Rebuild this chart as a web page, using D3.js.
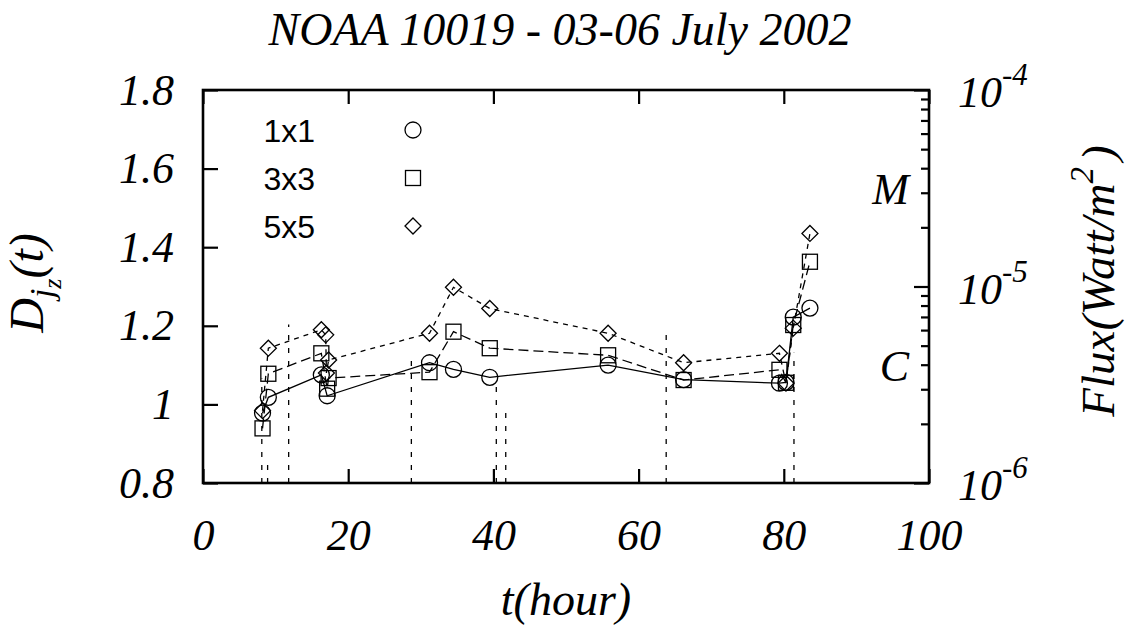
<!DOCTYPE html>
<html>
<head>
<meta charset="utf-8">
<script src="https://cdn.jsdelivr.net/npm/d3@7"></script>
<style>
  html, body { margin: 0; padding: 0; background: #fff; }
  svg { display: block; }
  .serif { font-family: "Liberation Serif", "Times New Roman", serif; font-style: italic; fill: #000; }
  .sans { font-family: "Liberation Sans", Arial, sans-serif; fill: #000; }
</style>
</head>
<body>
<svg id="chart" width="1127" height="632"></svg>
<script>
// Fractal dimension D_jz(t) of the vertical current for three box sizes
const hours1x1 = [8.2, 9.0, 16.3, 17.1, 31.2, 34.5, 39.5, 55.8, 66.2, 79.4, 80.3, 81.3, 83.6];
const dim1x1   = [0.978, 1.018, 1.075, 1.022, 1.106, 1.089, 1.069, 1.100, 1.063, 1.054, 1.056, 1.222, 1.245];

const hours3x3 = [8.2, 9.0, 16.3, 17.1, 17.3, 31.2, 34.5, 39.5, 55.8, 66.2, 79.4, 80.3, 81.3, 83.6];
const dim3x3   = [0.939, 1.078, 1.130, 1.040, 1.067, 1.082, 1.185, 1.143, 1.125, 1.062, 1.088, 1.055, 1.202, 1.363];

const hours5x5 = [8.2, 9.0, 16.3, 16.9, 17.0, 17.3, 31.2, 34.5, 39.5, 55.8, 66.2, 79.4, 80.3, 81.3, 83.6];
const dim5x5   = [0.984, 1.143, 1.190, 1.177, 1.080, 1.113, 1.181, 1.298, 1.244, 1.181, 1.106, 1.130, 1.054, 1.194, 1.435];

// GOES X-ray flares: peak time (hour) and peak flux (W/m^2)
const flareHours = [8.1, 8.9, 11.8, 28.7, 40.4, 41.7, 63.8, 81.4];
const flareFlux  = [3.4e-6, 1.3e-6, 6.4e-6, 4.5e-6, 3.3e-6, 2.3e-6, 6.2e-6, 4.6e-6];

// Axis ticks and labels
const xTicks = [0, 20, 40, 60, 80, 100];
const yTicks = [0.8, 1.0, 1.2, 1.4, 1.6, 1.8];
const yTickLabels = ["0.8", "1", "1.2", "1.4", "1.6", "1.8"];
const fluxDecades = [1e-6, 1e-5, 1e-4];
const fluxExponents = ["-6", "-5", "-4"];
const flareClasses = ["C", "M"];
const flareClassFlux = [3.2e-6, 3.2e-5];

const seriesNames = ["1x1", "3x3", "5x5"];

const svg = d3.select("#chart");
const L = 203, R = 929, T = 90, B = 483;

const x = d3.scaleLinear().domain([0, 100]).range([L, R]);
const y = d3.scaleLinear().domain([0.8, 1.8]).range([B, T]);
const yFlux = d3.scaleLog().domain([1e-6, 1e-4]).range([B, T]);

// Bottom axis (ticks point inward)
const gx = svg.append("g").attr("transform", `translate(0,${B})`)
  .call(d3.axisBottom(x).tickValues(xTicks).tickSize(-14).tickPadding(36).tickFormat(d3.format("d")));
// Top axis, ticks only
const gxt = svg.append("g").attr("transform", `translate(0,${T})`)
  .call(d3.axisTop(x).tickValues(xTicks).tickSize(-14).tickFormat(""));
// Left axis
const gy = svg.append("g").attr("transform", `translate(${L},0)`)
  .call(d3.axisLeft(y).tickValues(yTicks).tickSize(-15).tickPadding(29)
    .tickFormat((d, i) => yTickLabels[i]));
// Right log axis: major and minor ticks
const minorFlux = [];
for (let e = -6; e < -4; e++) for (let m = 2; m <= 9; m++) minorFlux.push(m * Math.pow(10, e));
const gyr = svg.append("g").attr("transform", `translate(${R},0)`)
  .call(d3.axisRight(yFlux).tickValues(fluxDecades).tickSize(-15).tickFormat(""));
const gyrm = svg.append("g").attr("transform", `translate(${R},0)`)
  .call(d3.axisRight(yFlux).tickValues(minorFlux).tickSize(-8).tickFormat(""));

[gx, gxt, gy, gyr, gyrm].forEach(g => {
  g.select(".domain").remove();
  g.selectAll(".tick line").attr("stroke", "#000").attr("stroke-width", 2.2);
  g.attr("font-family", null).attr("font-size", null);
});
gx.selectAll(".tick text").attr("class", "serif").style("font-size", "44px").attr("fill", "#000");
gy.selectAll(".tick text").attr("class", "serif").style("font-size", "44px").attr("fill", "#000");

// Right axis decade labels 10^n
fluxDecades.forEach((v, i) => {
  const t = svg.append("text").attr("class", "serif").style("font-size", "44px")
    .attr("x", 958).attr("y", yFlux(v) + 17);
  t.append("tspan").text("10");
  t.append("tspan").attr("dy", -22).style("font-size", "31px").text(fluxExponents[i]);
});
// Flare class letters
flareClasses.forEach((c, i) => {
  svg.append("text").attr("class", "serif").style("font-size", "44px")
    .attr("text-anchor", "end").attr("x", 909)
    .attr("y", yFlux(flareClassFlux[i]) + (c === "M" ? 17 : -3)).text(c);
});

// Flare markers: dashed verticals from the baseline up to the peak flux
svg.append("g").selectAll("line").data(flareHours).join("line")
  .attr("x1", d => x(d)).attr("x2", d => x(d))
  .attr("y1", B).attr("y2", (d, i) => yFlux(flareFlux[i]))
  .attr("stroke", "#000").attr("stroke-width", 1.3).attr("stroke-dasharray", "5,8");

// Series
const series = [
  { hours: hours1x1, vals: dim1x1, dash: null, shape: "circle" },
  { hours: hours3x3, vals: dim3x3, dash: "10,5", shape: "square" },
  { hours: hours5x5, vals: dim5x5, dash: "5,5", shape: "diamond" }
];
const line = d3.line().x(d => x(d[0])).y(d => y(d[1]));

function drawMarker(g, shape, cx, cy) {
  if (shape === "circle") {
    g.append("circle").attr("cx", cx).attr("cy", cy).attr("r", 8)
      .attr("fill", "none").attr("stroke", "#000").attr("stroke-width", 1.3);
  } else if (shape === "square") {
    g.append("rect").attr("x", cx - 7.5).attr("y", cy - 7.5).attr("width", 15).attr("height", 15)
      .attr("fill", "none").attr("stroke", "#000").attr("stroke-width", 1.3);
  } else {
    const s = 8;
    g.append("path").attr("d", `M${cx},${cy - s}L${cx + s},${cy}L${cx},${cy + s}L${cx - s},${cy}Z`)
      .attr("fill", "none").attr("stroke", "#000").attr("stroke-width", 1.3);
  }
}

series.forEach(s => {
  const pts = s.hours.map((h, i) => [h, s.vals[i]]);
  const p = svg.append("path").attr("d", line(pts))
    .attr("fill", "none").attr("stroke", "#000").attr("stroke-width", 1.3);
  if (s.dash) p.attr("stroke-dasharray", s.dash);
  const g = svg.append("g");
  pts.forEach(d => drawMarker(g, s.shape, x(d[0]), y(d[1])));
});

// Legend
const legendY = [130, 178, 226];
series.forEach((s, i) => {
  svg.append("text").attr("class", "sans").style("font-size", "32px")
    .attr("text-anchor", "end").attr("x", 315).attr("y", legendY[i] + 12).text(seriesNames[i]);
  drawMarker(svg, s.shape, 413, legendY[i]);
});

// Frame
svg.append("rect").attr("x", L).attr("y", T).attr("width", R - L).attr("height", B - T)
  .attr("fill", "none").attr("stroke", "#000").attr("stroke-width", 2.6);

// Title
svg.append("text").attr("class", "serif").style("font-size", "46px")
  .attr("text-anchor", "middle").attr("x", 560).attr("y", 45)
  .text("NOAA 10019 - 03-06 July 2002");

// X label
svg.append("text").attr("class", "serif").style("font-size", "46px")
  .attr("text-anchor", "middle").attr("x", 566).attr("y", 615).text("t(hour)");

// Left label D_{j_z}(t)
const dl = svg.append("text").attr("class", "serif").style("font-size", "48px")
  .attr("text-anchor", "middle").attr("transform", "translate(43,283) rotate(-90)");
dl.append("tspan").text("D");
dl.append("tspan").attr("dy", 10).style("font-size", "34px").text("j");
dl.append("tspan").attr("dy", 8).style("font-size", "26px").text("z");
dl.append("tspan").attr("dy", -18).text("(t)");

// Right label Flux(Watt/m^2)
const fl = svg.append("text").attr("class", "serif").style("font-size", "47px")
  .attr("text-anchor", "middle").attr("transform", "translate(1114,281) rotate(-90)");
fl.append("tspan").text("Flux(Watt/m");
fl.append("tspan").attr("dy", -21).style("font-size", "33px").text("2");
fl.append("tspan").attr("dy", 21).attr("dx", 6).text(")");
</script>
</body>
</html>
